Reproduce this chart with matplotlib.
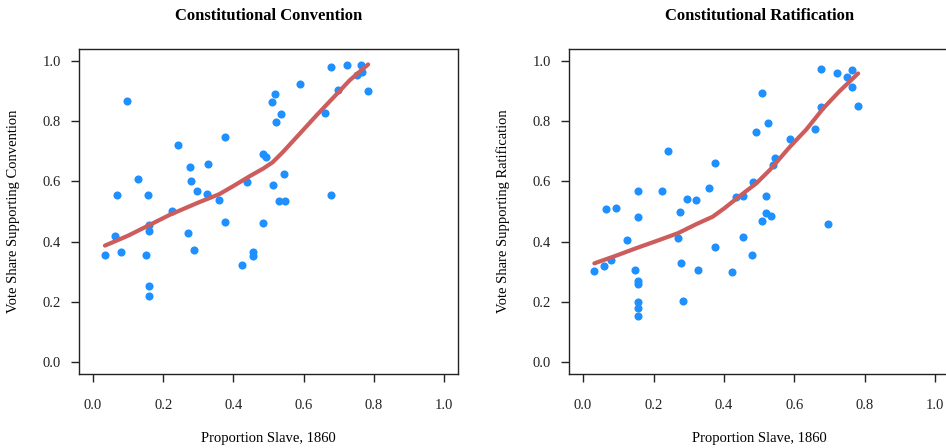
import matplotlib
matplotlib.use("Agg")
import matplotlib.pyplot as plt

plt.rcParams['font.family'] = ['Liberation Serif', 'DejaVu Serif']

# Constitutional Convention: state points (proportion slave, vote share)
conv_x = [0.034, 0.063, 0.067, 0.08, 0.097, 0.128, 0.150, 0.157, 0.160, 0.160,
          0.159, 0.159, 0.225, 0.242, 0.270, 0.276, 0.280, 0.288, 0.296, 0.324,
          0.328, 0.359, 0.376, 0.376, 0.424, 0.439, 0.456, 0.456, 0.483, 0.483,
          0.493, 0.512, 0.510, 0.520, 0.521, 0.530, 0.536, 0.544, 0.547, 0.589,
          0.662, 0.678, 0.678, 0.697, 0.724, 0.751, 0.764, 0.767, 0.783]
conv_y = [0.355, 0.420, 0.555, 0.367, 0.867, 0.608, 0.355, 0.555, 0.456, 0.435,
          0.253, 0.220, 0.502, 0.720, 0.430, 0.648, 0.602, 0.373, 0.567, 0.560,
          0.658, 0.538, 0.747, 0.464, 0.322, 0.598, 0.367, 0.353, 0.461, 0.693,
          0.682, 0.588, 0.865, 0.890, 0.797, 0.535, 0.824, 0.626, 0.535, 0.923,
          0.829, 0.555, 0.981, 0.905, 0.986, 0.953, 0.988, 0.964, 0.901]
conv_fit_x = [0.034, 0.10, 0.16, 0.22, 0.30, 0.36, 0.40, 0.447, 0.485, 0.512,
              0.542, 0.59, 0.637, 0.685, 0.732, 0.784]
conv_fit_y = [0.387, 0.42, 0.455, 0.49, 0.53, 0.558, 0.585, 0.618, 0.643, 0.664,
              0.699, 0.76, 0.82, 0.879, 0.937, 0.989]

# Constitutional Ratification
rat_x = [0.032, 0.060, 0.064, 0.078, 0.093, 0.125, 0.147, 0.156, 0.157, 0.157,
         0.157, 0.156, 0.157, 0.157, 0.224, 0.240, 0.269, 0.275, 0.279, 0.285,
         0.294, 0.321, 0.325, 0.358, 0.374, 0.374, 0.423, 0.435, 0.454, 0.454,
         0.480, 0.483, 0.492, 0.508, 0.509, 0.519, 0.519, 0.524, 0.533, 0.539,
         0.544, 0.587, 0.659, 0.676, 0.676, 0.695, 0.721, 0.750, 0.764, 0.764,
         0.781]
rat_y = [0.303, 0.320, 0.507, 0.339, 0.513, 0.405, 0.306, 0.483, 0.569, 0.268,
         0.259, 0.198, 0.180, 0.153, 0.567, 0.702, 0.411, 0.499, 0.328, 0.204,
         0.543, 0.537, 0.306, 0.579, 0.662, 0.383, 0.298, 0.548, 0.551, 0.416,
         0.355, 0.598, 0.765, 0.893, 0.468, 0.496, 0.551, 0.793, 0.485, 0.654,
         0.677, 0.742, 0.776, 0.973, 0.848, 0.458, 0.962, 0.946, 0.971, 0.913,
         0.851]
rat_fit_x = [0.032, 0.09, 0.15, 0.21, 0.269, 0.321, 0.368, 0.40, 0.444, 0.492,
             0.53, 0.587, 0.634, 0.682, 0.729, 0.781]
rat_fit_y = [0.328, 0.352, 0.378, 0.403, 0.428, 0.458, 0.483, 0.51, 0.551, 0.594,
             0.638, 0.715, 0.773, 0.843, 0.901, 0.959]

ticks = [0.0, 0.2, 0.4, 0.6, 0.8, 1.0]

fig = plt.figure(figsize=(9.46, 4.48), dpi=100)
ax1 = fig.add_axes([0.0835, 0.165, 0.4006, 0.7254])
ax2 = fig.add_axes([0.6015, 0.165, 0.4020, 0.7254])

panels = [
    (ax1, conv_x, conv_y, conv_fit_x, conv_fit_y,
     "Constitutional Convention", "Vote Share Supporting Convention"),
    (ax2, rat_x, rat_y, rat_fit_x, rat_fit_y,
     "Constitutional Ratification", "Vote Share Supporting Ratification"),
]

for ax, x, y, fx, fy, title, ylab in panels:
    ax.scatter(x, y, s=34, color='#1E90FF', linewidths=0, zorder=2)
    ax.plot(fx, fy, color='#CD5C5C', lw=3.0, solid_capstyle='round', zorder=3)
    ax.set_xlim(-0.04, 1.04)
    ax.set_ylim(-0.04, 1.04)
    ax.set_xticks(ticks)
    ax.set_yticks(ticks)
    ax.set_xticklabels(["%.1f" % t for t in ticks])
    ax.set_yticklabels(["%.1f" % t for t in ticks])
    ax.tick_params(direction='out', length=6, width=1, labelsize=10.5,
                   color='#222222', labelcolor='#222222')
    ax.tick_params(axis='x', pad=12)
    ax.tick_params(axis='y', pad=7)
    for sp in ax.spines.values():
        sp.set_linewidth(1.0)
        sp.set_color('#222222')
    ax.set_title(title, fontsize=12, fontweight='bold', pad=21)
    ax.set_xlabel("Proportion Slave, 1860", fontsize=10.5, labelpad=14)
    ax.set_ylabel(ylab, fontsize=10.5, labelpad=16)

# the right panel's box runs off the edge of the image in the original
ax2.spines['right'].set_visible(False)

fig.savefig("out.png", dpi=100)
